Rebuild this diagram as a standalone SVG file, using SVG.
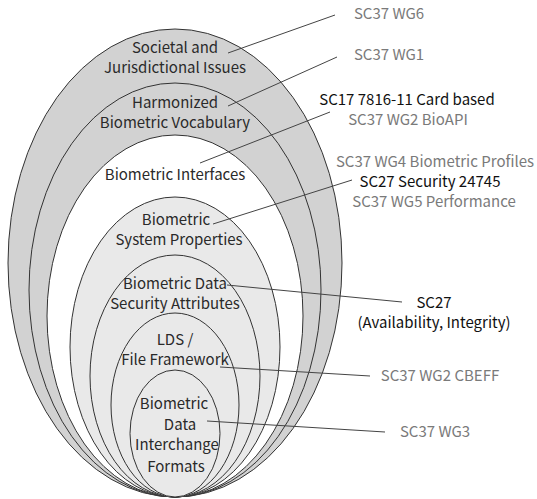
<svg xmlns="http://www.w3.org/2000/svg" width="537" height="499" viewBox="0 0 537 499">
<style>
.sh{stroke:#333;stroke-width:1}
.dk{fill:#d2d2d2}
.wh{fill:#fff}
.lt{fill:#e9e9e9}
text{font-family:"Noto Sans CJK KR","Noto Sans",sans-serif;font-size:15px}
.in{fill:#2a2a2a;text-anchor:middle}
.g{fill:#7a7a7a;text-anchor:middle}
.b{fill:#111;text-anchor:middle}
.ld{stroke:#444;stroke-width:1;fill:none}
</style>
<rect width="537" height="499" fill="#fff"/>
<g id="n1"><ellipse class="sh dk" cx="175" cy="263" rx="167" ry="234"/>
<text class="in" x="175" y="53">Societal and</text><text class="in" x="175" y="73">Jurisdictional Issues</text></g>
<g id="n2"><ellipse class="sh dk" cx="175" cy="290" rx="146" ry="207"/>
<text class="in" x="175" y="108">Harmonized</text><text class="in" x="175" y="128">Biometric Vocabulary</text></g>
<g id="n3"><ellipse class="sh wh" cx="175" cy="316" rx="128" ry="181"/>
<text class="in" x="175" y="180">Biometric Interfaces</text></g>
<g id="n4"><ellipse class="sh lt" cx="175" cy="347" rx="105" ry="150"/>
<text class="in" x="176" y="225">Biometric</text><text class="in" x="179" y="245">System Properties</text></g>
<g id="n5"><ellipse class="sh lt" cx="175" cy="376" rx="85" ry="121"/>
<text class="in" x="175" y="289">Biometric Data</text><text class="in" x="175" y="309">Security Attributes</text></g>
<g id="n6"><ellipse class="sh lt" cx="175" cy="405" rx="64" ry="92"/>
<text class="in" x="175" y="345">LDS /</text><text class="in" x="175" y="365">File Framework</text></g>
<g id="n7"><ellipse class="sh lt" cx="175" cy="433.5" rx="45" ry="63.5"/>
<text class="in" x="174" y="409">Biometric</text><text class="in" x="180" y="430">Data</text><text class="in" x="177" y="450">Interchange</text><text class="in" x="176" y="472">Formats</text></g>
<g id="connectors">
<line class="ld" x1="228" y1="53" x2="335" y2="15"/>
<line class="ld" x1="228" y1="106" x2="337" y2="57"/>
<line class="ld" x1="200" y1="163" x2="330" y2="112"/>
<line class="ld" x1="213" y1="224" x2="352" y2="180"/>
<line class="ld" x1="227" y1="285" x2="402" y2="302"/>
<line class="ld" x1="220" y1="367" x2="370" y2="376"/>
<line class="ld" x1="207" y1="421" x2="385" y2="432"/>
</g>
<g id="labels">
<text class="g" x="389" y="19">SC37 WG6</text>
<text class="g" x="389" y="60">SC37 WG1</text>
<text class="b" x="407" y="105">SC17 7816-11 Card based</text>
<text class="g" x="408" y="125">SC37 WG2 BioAPI</text>
<text class="g" x="435" y="167">SC37 WG4 Biometric Profiles</text>
<text class="b" x="430" y="187">SC27 Security 24745</text>
<text class="g" x="434" y="207">SC37 WG5 Performance</text>
<text class="b" x="434" y="308">SC27</text>
<text class="b" x="434" y="328">(Availability, Integrity)</text>
<text class="g" x="440" y="381">SC37 WG2 CBEFF</text>
<text class="g" x="435" y="437">SC37 WG3</text>
</g>
</svg>
